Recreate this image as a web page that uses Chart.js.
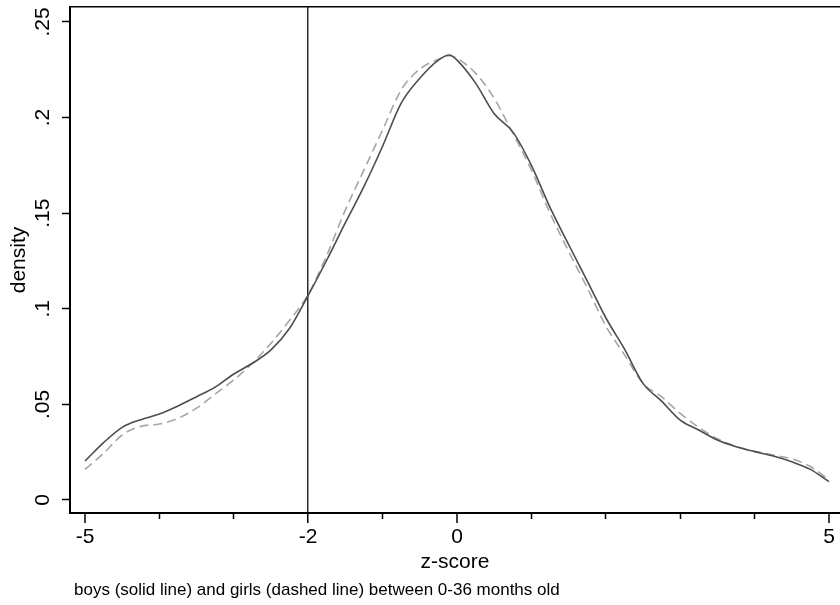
<!DOCTYPE html>
<html>
<head>
<meta charset="utf-8">
<script src="https://cdn.jsdelivr.net/npm/chart.js@4/dist/chart.umd.min.js"></script>
<style>
    body { margin: 0; background: #fff; }
</style>
</head>
<body>
<canvas id="myChart" width="840" height="605"></canvas>
<script>
// z-score grid and density estimates
var zScores = [-5, -4.75, -4.5, -4.25, -4, -3.75, -3.5, -3.25, -3, -2.75, -2.5, -2.25, -2,
    -1.75, -1.5, -1.25, -1, -0.75, -0.5, -0.25, -0.1, 0, 0.25, 0.5, 0.75, 1, 1.25, 1.5, 1.75, 2,
    2.25, 2.5, 2.75, 3, 3.25, 3.5, 3.75, 4, 4.25, 4.5, 4.75, 5];

var boys = [0.0204, 0.030, 0.0380, 0.0420, 0.045, 0.0492, 0.054, 0.059, 0.0659, 0.0715, 0.0785, 0.0898, 0.107,
    0.1255, 0.145, 0.164, 0.185, 0.2075, 0.2205, 0.2300, 0.2327, 0.2300, 0.218, 0.202, 0.1925, 0.175, 0.153, 0.1336, 0.1146, 0.0953,
    0.079, 0.061, 0.0517, 0.0418, 0.0366, 0.0314, 0.0279, 0.0253, 0.023, 0.020, 0.016, 0.0096];

var girls = [0.016, 0.0244, 0.0340, 0.0385, 0.0397, 0.0427, 0.048, 0.0554, 0.0628, 0.0715, 0.082, 0.094, 0.1075,
    0.128, 0.1517, 0.1726, 0.1935, 0.2144, 0.2253, 0.2305, 0.2323, 0.2310, 0.2232, 0.210, 0.1918, 0.1726, 0.150, 0.130, 0.111, 0.091,
    0.076, 0.061, 0.054, 0.0453, 0.038, 0.032, 0.028, 0.0255, 0.0235, 0.0215, 0.0175, 0.0105];

var yTicks = [0, 0.05, 0.1, 0.15, 0.2, 0.25];
var xMajorTicks = [-5, -2, 0, 5];
var xMinorTicks = [-4, -3, -1, 1, 2, 3, 4];
var cutoff = -2;
var caption = "boys (solid line) and girls (dashed line) between 0-36 months old";

var fontName = '"Liberation Sans", Arial, sans-serif';

function toPoints(values) {
    var pts = [];
    for (var i = 0; i < zScores.length; i++) {
        pts.push({ x: zScores[i], y: values[i] });
    }
    return pts;
}

function fmtY(v) {
    if (v === 0) return "0";
    return String(+v.toFixed(2)).replace(/^0/, "");
}

var captionPlugin = {
    id: 'caption',
    afterDraw: function (chart) {
        var ctx = chart.ctx;
        ctx.save();
        ctx.font = '17px ' + fontName;
        ctx.fillStyle = '#000';
        ctx.textBaseline = 'alphabetic';
        ctx.textAlign = 'left';
        ctx.fillText(caption, 74, 595);
        ctx.restore();
    }
};

var ctx = document.getElementById('myChart').getContext('2d');

var chart = new Chart(ctx, {
    type: 'line',
    data: {
        datasets: [{
            label: 'boys',
            data: toPoints(boys),
            borderColor: '#4d4d4d',
            borderWidth: 1.6,
            pointRadius: 0,
            cubicInterpolationMode: 'monotone',
            fill: false
        }, {
            label: 'girls',
            data: toPoints(girls),
            borderColor: '#a6a6a6',
            borderWidth: 1.6,
            borderDash: [9, 5],
            pointRadius: 0,
            cubicInterpolationMode: 'monotone',
            fill: false
        }]
    },
    options: {
        responsive: false,
        animation: false,
        devicePixelRatio: 1,
        layout: { padding: { top: 7, left: 0, right: 0, bottom: 0 } },
        plugins: {
            legend: { display: false },
            tooltip: { enabled: false }
        },
        scales: {
            x: {
                type: 'linear',
                position: 'bottom',
                weight: 1,
                min: -5.2016,
                max: 5.148,
                afterBuildTicks: function (s) {
                    s.ticks = xMajorTicks.map(function (v) { return { value: v }; });
                },
                afterFit: function (s) { s.height = 92; s.paddingLeft = 0; s.paddingRight = 0; },
                ticks: {
                    color: '#000',
                    font: { family: fontName, size: 21 },
                    padding: 2,
                    maxRotation: 0,
                    autoSkip: false,
                    callback: function (v) { return String(v); }
                },
                grid: {
                    drawOnChartArea: true,
                    color: function (c) { return c.tick && c.tick.value === cutoff ? '#2b2b2b' : 'rgba(0,0,0,0)'; },
                    lineWidth: function (c) { return c.tick && c.tick.value === cutoff ? 1.5 : 0; },
                    tickColor: '#000',
                    tickWidth: 1.5,
                    tickLength: 10
                },
                border: { display: true, color: '#000', width: 2 },
                title: {
                    display: true,
                    text: 'z-score',
                    color: '#000',
                    font: { family: fontName, size: 21 },
                    padding: { top: 0, bottom: 30 }
                }
            },
            xMinor: {
                type: 'linear',
                position: 'bottom',
                weight: 0,
                min: -5.2016,
                max: 5.148,
                afterBuildTicks: function (s) {
                    s.ticks = xMinorTicks.map(function (v) { return { value: v }; });
                },
                afterFit: function (s) { s.height = 0; s.paddingLeft = 0; s.paddingRight = 0; },
                ticks: { display: false },
                grid: {
                    drawOnChartArea: false,
                    tickColor: '#000',
                    tickWidth: 1.5,
                    tickLength: 6
                },
                border: { display: false }
            },
            xTop: {
                type: 'linear',
                position: 'top',
                min: -5.2016,
                max: 5.148,
                afterFit: function (s) { s.height = 0; s.paddingLeft = 0; s.paddingRight = 0; },
                ticks: { display: false },
                grid: { display: false },
                border: { display: true, color: '#000', width: 1.5 }
            },
            y: {
                type: 'linear',
                position: 'left',
                min: -0.0068,
                max: 0.2578,
                afterBuildTicks: function (s) {
                    s.ticks = yTicks.map(function (v) { return { value: v }; });
                },
                afterFit: function (s) { s.width = 70; s.paddingTop = 0; s.paddingBottom = 0; },
                ticks: {
                    color: '#000',
                    font: { family: fontName, size: 21 },
                    minRotation: 90,
                    maxRotation: 90,
                    crossAlign: 'center',
                    padding: 4,
                    callback: function (v) { return fmtY(v); }
                },
                grid: {
                    drawOnChartArea: false,
                    tickColor: '#000',
                    tickWidth: 1.5,
                    tickLength: 8
                },
                border: { display: true, color: '#000', width: 2 },
                title: {
                    display: true,
                    text: 'density',
                    color: '#000',
                    font: { family: fontName, size: 21 },
                    padding: { top: 7, bottom: 0 }
                }
            }
        }
    },
    plugins: [captionPlugin]
});
</script>
</body>
</html>
